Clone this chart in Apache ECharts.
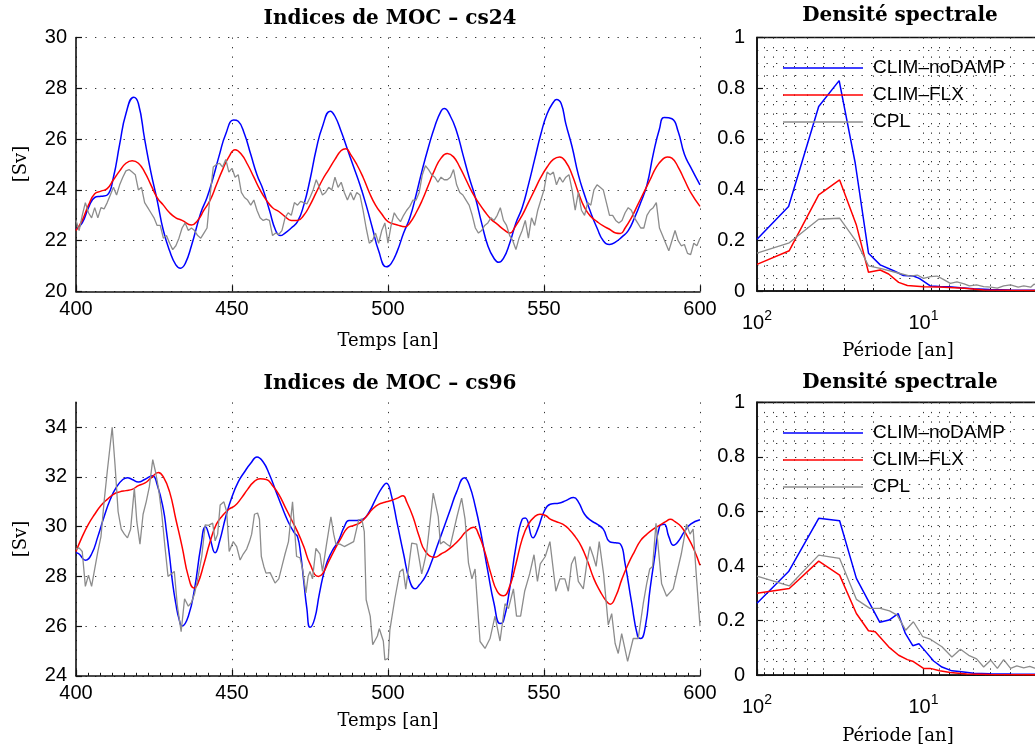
<!DOCTYPE html>
<html><head><meta charset="utf-8">
<script src="https://cdn.jsdelivr.net/npm/echarts@6/dist/echarts.min.js"></script>
<style>html,body{margin:0;padding:0;background:#fff;overflow:hidden}#c{width:1035px;height:749px}</style>
</head><body><div id="c"></div>
<script>
// ---------- names / colours ----------
const seriesNames = ['CLIM–noDAMP', 'CLIM–FLX', 'CPL'];
const seriesColors = ['#0000ff', '#ff0000', '#8c8c8c'];
const panelTitles = ['Indices de MOC – cs24', 'Densité spectrale', 'Indices de MOC – cs96', 'Densité spectrale'];
const timeAxisName = 'Temps [an]';
const periodAxisName = 'Période [an]';
const unitName = '[Sv]';

// ---------- axis ticks ----------
const timeRange = [400, 600];
const timeTickStep = 50;
const cs24Range = [20, 30];
const cs96Range = [24, 35];
const sverdrupTickStep = 2;
const densityRange = [0, 1];
const densityTickStep = 0.2;
const periodRange = [1, 100];
const periodLabels = {100: '2', 10: '1'};   // 10^exponent labels

// ---------- cs24 time series [year, Sv] ----------
const cs24_noDAMP = [[400,22.45],[402,22.7],[404,23.3],[406,23.7],[408,23.75],[410,23.8],[412,24.5],[414,25.8],[416,27.0],[418.5,27.65],[420,27.4],[422,26.0],[424,24.7],[426,23.6],[428,22.4],[430,21.6],[432,21.05],[433.5,20.92],[435,21.1],[437,21.8],[440,23.1],[442,23.7],[444,24.5],[446,25.4],[448,26.2],[450.5,26.75],[452,26.7],[454,26.2],[456,25.4],[458,24.6],[460,24.0],[462,23.2],[464,22.4],[465.5,22.2],[467,22.3],[469,22.5],[471,22.75],[473,23.4],[475,24.4],[477,25.6],[479,26.5],[481.5,27.1],[483,26.9],[485,26.3],[487,25.6],[489,24.9],[491,24.2],[493,23.4],[495,22.5],[497,21.6],[499.5,20.97],[501,21.1],[503,21.6],[505,22.3],[507,22.9],[509,23.8],[511,24.8],[513,25.7],[515,26.5],[517,27.1],[518,27.2],[520,26.9],[522,26.3],[524,25.4],[526,24.5],[528,23.7],[530,22.7],[532,21.8],[534,21.3],[535.5,21.15],[537,21.3],[539,21.9],[541,22.7],[543,23.3],[545,24.2],[547,25.2],[549,26.2],[551,27.0],[553,27.45],[554,27.56],[555.5,27.4],[557,26.6],[559,25.7],[561,24.6],[563,23.8],[565,23.1],[567,22.5],[569,22.0],[571,21.85],[573,21.95],[575,22.15],[577,22.4],[579,22.9],[581,23.5],[583,24.2],[585,25.4],[587,26.4],[588.5,26.85],[591,26.8],[593,26.3],[595,25.4],[597,24.9],[600,24.2]];
const cs24_FLX = [[400,22.4],[402,22.8],[404,23.4],[406,23.85],[408,23.95],[410,24.05],[412,24.4],[414,24.75],[416,25.05],[418,25.15],[420,25.05],[422,24.7],[424,24.2],[426,23.7],[428,23.4],[430,23.1],[432,22.9],[434,22.8],[437,22.62],[439,22.8],[441,23.2],[443,23.6],[445,24.2],[447,24.8],[449,25.3],[451,25.58],[453,25.4],[455,25.0],[457,24.5],[459,24.0],[461,23.6],[463,23.3],[465,23.15],[467,22.95],[469,22.8],[471,22.8],[473,23.0],[475,23.4],[477,23.9],[479,24.4],[481,24.8],[483,25.2],[485,25.55],[486.5,25.62],[488,25.4],[490,25.0],[492,24.5],[494,23.9],[496,23.4],[498,23.05],[500,22.75],[503,22.62],[505.5,22.55],[507,22.7],[509,23.1],[511,23.6],[513,24.2],[515,24.8],[517,25.25],[519,25.43],[521,25.3],[523,24.9],[525,24.4],[527,23.9],[529,23.5],[531,23.15],[533,22.85],[535,22.65],[537,22.45],[539,22.3],[541,22.6],[543,23.0],[545,23.5],[547,24.0],[549,24.5],[551,24.9],[553,25.2],[555,25.3],[557,25.1],[559,24.6],[561,23.9],[563,23.3],[565,22.95],[567,22.75],[569,22.58],[571,22.45],[573,22.3],[574.5,22.28],[576,22.5],[578,22.9],[580,23.4],[582,23.9],[584,24.4],[586,24.9],[588,25.2],[589.5,25.3],[591,25.25],[593,24.9],[595,24.4],[597,23.9],[600,23.35]];
const cs24_CPL = [[400,22.8],[401,22.4],[402,23.0],[403,23.5],[404,23.1],[405,22.9],[406,23.3],[407,22.9],[408,23.3],[409,23.25],[410,23.5],[411,23.8],[412,24.1],[413,23.8],[414,24.2],[415,24.5],[416,24.75],[417,24.8],[418,24.7],[419,24.6],[420,24.0],[421,24.1],[422,23.5],[423,23.3],[424,23.1],[425,22.9],[426,22.6],[427,22.6],[428,22.1],[429,22.2],[430,21.9],[431,21.65],[432,21.8],[433,22.1],[434,22.5],[435,22.7],[436,22.4],[437,22.5],[438,22.4],[439,22.2],[440,22.1],[441,22.3],[442,22.5],[443,23.8],[444,24.9],[445,25.0],[446,25.05],[447,24.9],[448,25.2],[449,24.7],[450,24.85],[451,24.5],[452,24.6],[453,23.9],[454,23.7],[455,23.6],[456,23.4],[457,23.6],[458,23.2],[459,22.9],[460,22.8],[461,22.85],[462,22.8],[463,22.2],[464,22.3],[465,22.25],[466,22.4],[467,22.9],[468,23.1],[469,23.0],[470,23.5],[471,23.4],[472,23.55],[473,23.5],[474,23.45],[475,23.7],[476,24.0],[477,24.4],[478,24.1],[479,23.8],[480,23.9],[481,24.1],[482,24.0],[483,24.5],[484,24.1],[485,24.3],[486,23.9],[487,23.6],[488,23.9],[489,23.6],[490,23.9],[491,23.8],[492,23.2],[493,22.5],[494,21.9],[495,22.0],[496,22.3],[497,21.9],[498,22.4],[499,22.7],[500,21.9],[501,22.6],[502,23.1],[503,22.9],[504,22.75],[505,23.0],[506,23.2],[507,23.35],[508,23.6],[509,23.6],[510,23.9],[511,24.6],[512,24.95],[513,24.8],[514,24.6],[515,24.5],[516,24.3],[517,24.5],[518,24.4],[519,24.4],[520,24.5],[521,24.8],[522,24.2],[523,23.9],[524,23.8],[525,23.6],[526,23.4],[527,23.0],[528,22.5],[529,22.3],[530,22.4],[531,22.6],[532,22.7],[533,22.9],[534,22.8],[535,23.0],[536,23.3],[537,22.8],[538,22.6],[539,22.2],[540,22.0],[541,21.65],[542,22.1],[543,22.4],[544,22.8],[545,22.1],[546,22.9],[547,22.6],[548,23.2],[549,23.6],[550,24.0],[551,24.7],[552,24.6],[553,24.7],[554,24.2],[555,24.5],[556,24.3],[557,24.5],[558,24.6],[559,24.0],[560,23.2],[561,23.9],[562,23.2],[563,23.0],[564,23.5],[565,23.4],[566,24.0],[567,24.2],[568,24.1],[569,24.0],[570,23.5],[571,23.0],[572,23.0],[573,22.8],[574,22.7],[575,22.8],[576,23.1],[577,23.3],[578,23.2],[579,22.9],[580,22.7],[581,22.5],[582,22.5],[583,23.0],[584,23.2],[585,23.3],[586,23.5],[587,22.5],[588,22.2],[589,21.9],[590,21.6],[591,22.0],[592,22.4],[593,22.0],[594,21.8],[595,21.85],[596,21.5],[597,21.45],[598,21.9],[599,21.8],[600,22.1]];

// ---------- cs96 time series [year, Sv] ----------
const cs96_noDAMP = [[400,28.95],[401,28.9],[403,28.65],[405,28.9],[407,29.6],[409,30.4],[411,31.1],[413,31.6],[415,31.9],[416.5,31.97],[418,31.9],[420,31.8],[422,31.9],[424.5,32.05],[426,31.7],[428,30.7],[429,29.8],[430,28.8],[431,27.7],[432,26.9],[433,26.3],[434,26.0],[436,26.4],[438,27.5],[440,29.2],[441.5,30.0],[443,29.5],[444.6,28.95],[446,29.4],[448,30.4],[450,31.2],[452,31.8],[454,32.2],[456,32.55],[458,32.8],[460,32.6],[462,32.1],[464,31.45],[466,30.8],[468,30.2],[470,29.75],[471,29.6],[472,28.9],[473,27.8],[474,26.7],[475,25.95],[476.5,26.3],[478,27.3],[480,28.4],[482,29.0],[484,29.4],[486,30.0],[487.5,30.25],[490,30.25],[492,30.3],[494,30.6],[496,31.1],[498,31.55],[499.5,31.75],[501,31.3],[503,30.1],[505,28.9],[507,27.8],[508.7,27.5],[510,27.65],[512,28.0],[514,28.6],[516,29.3],[518,30.0],[520,30.7],[522,31.4],[524.5,31.97],[526,31.7],[528,30.8],[530,29.6],[532,28.2],[534,26.9],[535.9,26.1],[537,26.2],[539,27.5],[541,29.2],[543,30.3],[544,30.35],[546.5,29.55],[548,29.9],[550,30.6],[552,30.9],[555,30.95],[557,31.05],[559.5,31.17],[561,31.0],[563,30.5],[565,30.25],[567,30.1],[569,29.9],[571,29.4],[573,29.35],[574.5,29.3],[576,28.5],[578,27.0],[580,25.6],[581,25.5],[582.5,26.0],[584,27.5],[585.5,28.8],[587,30.0],[588.5,30.1],[590,29.6],[591.5,29.25],[593,29.4],[595,29.8],[597,30.1],[600,30.28]];
const cs96_FLX = [[400,29.0],[402,29.6],[404,30.1],[406,30.5],[408,30.85],[410,31.1],[412,31.3],[414,31.4],[416,31.45],[418,31.5],[420,31.65],[422,31.75],[424,31.95],[426.4,32.18],[428,32.0],[430,31.4],[432,30.3],[434,29.2],[436,28.0],[437.8,27.53],[439,27.7],[441,28.5],[443,29.4],[445,30.1],[447,30.45],[449,30.7],[451,30.85],[453,31.15],[455,31.5],[457,31.8],[459,31.93],[461,31.9],[463,31.65],[465,31.3],[467,30.8],[469,30.3],[471,29.8],[473,29.2],[475,28.5],[477.7,28.0],[479,28.1],[481,28.6],[483,29.1],[485,29.55],[487,29.95],[489,30.05],[491,30.15],[493,30.4],[495,30.7],[497,30.9],[499,30.98],[501,31.05],[503,31.15],[504.8,31.24],[506,31.0],[508,30.4],[510,29.6],[512,29.0],[515,28.77],[517,28.9],[519,29.05],[521,29.25],[523,29.5],[525,29.8],[527.5,29.98],[529,29.7],[531,29.0],[533,28.1],[535,27.4],[537,27.22],[539,27.6],[541,28.5],[543,29.5],[545,30.1],[547,30.4],[548.7,30.5],[550.5,30.45],[552,30.3],[554,30.2],[556,30.1],[558,29.9],[560,29.6],[562,29.2],[564,28.6],[566,27.9],[568,27.4],[570,27.0],[571.2,26.88],[573,27.2],[575,27.9],[577,28.5],[579,29.0],[581,29.45],[583,29.7],[585,29.9],[587,30.05],[589,30.2],[590.5,30.3],[592,30.2],[594,30.0],[596,29.6],[598,29.1],[600,28.45]];
const cs96_CPL = [[400,29.1],[401,29.15],[402,29.0],[403,27.6],[404,28.05],[405,27.6],[406,28.3],[407,29.0],[408,29.6],[409,31.0],[410,32.2],[411.6,34.0],[412.5,32.5],[413.5,30.6],[414.5,29.9],[415.5,29.7],[416.5,29.55],[417.5,29.9],[418.7,31.55],[419.5,30.2],[420.5,29.3],[421.5,30.5],[422.5,31.0],[423.5,31.6],[424.6,32.7],[425.5,32.2],[426.5,31.5],[427.5,30.5],[428.5,29.2],[429.5,28.0],[430.5,28.1],[431.5,28.2],[432.5,26.8],[433.7,25.78],[434.8,27.1],[436,26.8],[437,26.95],[438,27.3],[439,27.9],[440.3,28.8],[441.4,30.07],[442.5,30.05],[443.8,30.14],[444.6,29.43],[445.4,29.7],[446.2,30.87],[447.4,31.0],[448.3,30.6],[449.1,29.0],[450.4,29.4],[451.5,29.2],[452.6,28.66],[453.6,28.9],[454.7,29.1],[455.6,29.4],[456.3,29.7],[457.2,30.5],[458.2,30.55],[458.8,30.3],[459.4,28.8],[460.2,28.4],[460.9,28.13],[462.2,28.15],[463.8,27.73],[465,27.9],[466,28.4],[467,28.9],[468.1,29.4],[469.4,31.0],[470.7,28.8],[471.8,28.75],[472.6,28.3],[473.7,27.33],[474.4,28.0],[475,28.2],[475.8,27.9],[476.9,29.13],[478.2,28.9],[479,28.2],[480.3,29.3],[481.7,30.4],[482.6,29.7],[483.3,29.3],[484.6,29.3],[486,29.2],[487.5,29.3],[489,29.4],[490.6,30.27],[491.6,30.3],[492.4,29.8],[493,27.06],[493.7,26.7],[494.3,26.4],[495.1,25.25],[496.6,25.6],[497.2,25.9],[498.5,25.4],[499,24.64],[500.1,24.7],[500.6,25.85],[502.2,27.1],[503.8,28.19],[504.8,28.3],[505.7,27.49],[507.6,29.34],[509.2,29.3],[510.8,28.1],[512.4,29.0],[514.5,31.35],[516.1,30.4],[516.8,29.3],[517.8,29.4],[518.8,29.3],[519.9,29.2],[522.1,30.4],[523.6,31.15],[524.7,30.3],[525.8,28.53],[526.9,27.9],[527.9,28.3],[529.5,25.38],[531.1,25.1],[532.7,25.5],[534.3,26.4],[535.9,25.4],[537.5,26.9],[538.6,26.7],[540.2,27.5],[541.2,26.4],[542.5,26.4],[543.8,27.4],[545.4,28.1],[546.8,28.87],[547.9,27.8],[548.8,28.5],[550.4,28.8],[551.9,29.4],[553.8,27.4],[555.1,27.9],[556.7,27.9],[557.8,27.4],[558.8,28.5],[559.9,28.8],[561,27.8],[562.6,27.5],[563.7,28.5],[564.7,29.2],[565.8,28.8],[566.7,28.4],[567.7,29.4],[569.1,28.1],[570.6,26.05],[571.7,26.5],[572.8,25.3],[573.8,24.9],[574.9,25.7],[576.8,24.58],[578.6,25.5],[580.2,25.5],[581.8,26.9],[582.9,27.7],[583.9,28.3],[584.8,28.4],[585.9,30.14],[586.6,29.2],[587.7,27.7],[589.3,27.2],[591.4,27.5],[594,28.9],[595.7,30.1],[596.8,29.7],[597.8,29.9],[598.9,27.9],[600,26.0]];

// ---------- spectral densities [period (years), density] ----------
const spec24_noDAMP = [[100,0.204],[64.6,0.333],[42.6,0.728],[32.1,0.83],[25.7,0.504],[21.4,0.149],[18.2,0.103],[15.1,0.080],[13.2,0.061],[11.5,0.059],[10.6,0.05],[9.1,0.02],[8,0.018],[7,0.017],[6,0.013],[5,0.009],[4,0.006],[3,0.004],[2,0.003]];
const spec24_FLX = [[100,0.105],[64,0.159],[42.6,0.379],[31.9,0.438],[25.3,0.26],[21.4,0.074],[18.2,0.083],[16.2,0.067],[14.1,0.034],[12.5,0.022],[10,0.017],[8.1,0.016],[5.7,0.011],[4.35,0.004],[3,0.003],[2,0.002]];
const spec24_CPL = [[100,0.149],[64,0.19],[42.6,0.283],[31.9,0.287],[25.3,0.195],[21.4,0.099],[18.2,0.089],[14.4,0.072],[12,0.059],[10.9,0.063],[10,0.05],[9.1,0.057],[8.3,0.059],[7.6,0.046],[6.9,0.030],[6.3,0.036],[5.7,0.028],[5.3,0.020],[4.8,0.024],[4.35,0.017],[3.95,0.015],[3.6,0.011],[3.3,0.020],[3.0,0.024],[2.7,0.015],[2.5,0.02],[2.27,0.015],[2.17,0.027],[2,0.02]];
const spec96_noDAMP = [[100,0.264],[64.6,0.38],[42.6,0.575],[31.9,0.566],[25.3,0.355],[18.3,0.194],[16.1,0.202],[14.2,0.226],[12.85,0.153],[11.6,0.108],[10.65,0.115],[9.5,0.08],[8.7,0.052],[7.75,0.030],[6.75,0.016],[5.9,0.013],[5,0.007],[4,0.005],[3,0.004],[2,0.003]];
const spec96_FLX = [[100,0.30],[64,0.318],[42.6,0.418],[31.9,0.367],[25.3,0.226],[21.4,0.163],[19.5,0.159],[16.2,0.104],[14.1,0.073],[12.5,0.057],[11.5,0.05],[10,0.025],[9.1,0.025],[8,0.016],[6.9,0.010],[5.5,0.004],[4,0.003],[2,0.002]];
const spec96_CPL = [[100,0.363],[64,0.327],[42.6,0.44],[31.9,0.428],[25.3,0.278],[21,0.245],[18.2,0.245],[16,0.236],[14.4,0.22],[12.8,0.165],[11.5,0.196],[10.1,0.141],[9.1,0.132],[7.75,0.104],[6.75,0.067],[6.0,0.095],[5.35,0.073],[4.8,0.06],[4.35,0.030],[3.95,0.055],[3.6,0.025],[3.3,0.057],[3.0,0.025],[2.75,0.034],[2.5,0.027],[2.3,0.032],[2.15,0.026],[2,0.028]];

// ---------- build ----------
const SANS = '"Liberation Sans", Arial, Helvetica, sans-serif';
const SERIF = '"DejaVu Serif", serif';
const dotted = {color: '#333', width: 1, type: [1.3, 8.2]};
const axisLineStyle = {show: true, onZero: false, lineStyle: {color: '#111', width: 1.6}};
const tickStyle = {show: true, inside: true, length: 6, lineStyle: {color: '#111', width: 1.2}};
const labelStyle = {color: '#000', fontSize: 20, fontFamily: SANS};

function timeX(grid, minor) {
  return {type: 'value', gridIndex: grid, min: timeRange[0], max: timeRange[1], interval: timeTickStep,
    axisLine: axisLineStyle, axisTick: tickStyle,
    minorTick: {show: !!minor, splitNumber: 13, length: 3, lineStyle: {color: '#111'}},
    axisLabel: Object.assign({margin: 8}, labelStyle),
    splitLine: {show: true, lineStyle: dotted}};
}
function svY(grid, range) {
  const even = (range[1] - range[0]) % sverdrupTickStep === 0;
  return {type: 'value', gridIndex: grid, min: range[0], max: range[1], interval: sverdrupTickStep,
    axisLine: axisLineStyle, axisTick: tickStyle,
    axisLabel: Object.assign({margin: 9, showMaxLabel: even}, labelStyle),
    splitLine: {show: true, showMaxLine: even, lineStyle: dotted}};
}
function periodX(grid) {
  return {type: 'log', logBase: 10, gridIndex: grid, min: periodRange[0], max: periodRange[1], inverse: true,
    axisLine: axisLineStyle, axisTick: tickStyle,
    minorTick: {show: true, splitNumber: 9, length: 3, lineStyle: {color: '#111'}},
    axisLabel: {margin: 14, formatter: v => periodLabels[Math.round(v)] ? '{b|10}{e|' + periodLabels[Math.round(v)] + '}' : '',
      rich: {b: {fontSize: 20, fontFamily: SANS, color: '#000', padding: [8, 0, 0, 0]}, e: {fontSize: 14, fontFamily: SANS, color: '#000', padding: [0, 0, 6, 0]}}},
    splitLine: {show: true, lineStyle: dotted},
    minorSplitLine: {show: true, lineStyle: dotted}};
}
function densityY(grid) {
  return {type: 'value', gridIndex: grid, min: densityRange[0], max: densityRange[1], interval: densityTickStep,
    axisLine: axisLineStyle, axisTick: tickStyle,
    minorTick: {show: false, splitNumber: 4},
    axisLabel: Object.assign({margin: 12}, labelStyle),
    splitLine: {show: true, lineStyle: dotted},
    minorSplitLine: {show: true, lineStyle: dotted}};
}
function line(idx, data, ax, smooth) {
  return {type: 'line', name: seriesNames[idx], data: data, xAxisIndex: ax, yAxisIndex: ax,
    symbol: 'none', showSymbol: false, smooth: smooth ? 0.5 : false,
    lineStyle: {color: seriesColors[idx], width: idx === 2 ? 1.3 : 1.5}, itemStyle: {color: seriesColors[idx]},
    emphasis: {disabled: true}, z: 3 + idx};
}
function txt(x, y, text, font, rot) {
  return {type: 'text', x: x, y: y, rotation: rot || 0, z: 100,
    style: {text: text, font: font, fill: '#000', align: 'center', verticalAlign: 'middle'}};
}
function legend(top) {
  return {orient: 'vertical', left: 783, top: top, padding: 0, icon: 'rect', itemWidth: 80, itemHeight: 1.5, itemGap: 7,
    data: seriesNames, selectedMode: false,
    textStyle: {fontSize: 19, fontFamily: SANS, color: '#000', lineHeight: 20, padding: [0, 0, 0, 5]}};
}

const gridBase = {outerBoundsMode: 'none', containLabel: false};
const option = {
  animation: false,
  backgroundColor: '#fff',
  grid: [
    Object.assign({left: 76, top: 37.5, width: 624, height: 254}, gridBase),
    Object.assign({left: 757, top: 37.5, width: 333, height: 253.5, show: true, borderColor: '#111', borderWidth: 1.6}, gridBase),
    Object.assign({left: 76, top: 402.4, width: 624, height: 273.4}, gridBase),
    Object.assign({left: 757, top: 402.4, width: 333, height: 272.8, show: true, borderColor: '#111', borderWidth: 1.6}, gridBase)
  ],
  xAxis: [timeX(0, false), periodX(1), timeX(2, true), periodX(3)],
  yAxis: [svY(0, cs24Range), densityY(1), svY(2, cs96Range), densityY(3)],
  legend: [legend(58), legend(423)],
  series: [
    line(0, cs24_noDAMP, 0, true), line(1, cs24_FLX, 0, true), line(2, cs24_CPL, 0, false),
    line(0, spec24_noDAMP, 1, false), line(1, spec24_FLX, 1, false), line(2, spec24_CPL, 1, false),
    line(0, cs96_noDAMP, 2, true), line(1, cs96_FLX, 2, true), line(2, cs96_CPL, 2, false),
    line(0, spec96_noDAMP, 3, false), line(1, spec96_FLX, 3, false), line(2, spec96_CPL, 3, false)
  ],
  graphic: [
    txt(390, 19, panelTitles[0], 'bold 20px ' + SERIF),
    txt(900, 16, panelTitles[1], 'bold 20px ' + SERIF),
    txt(390, 384, panelTitles[2], 'bold 20px ' + SERIF),
    txt(900, 383, panelTitles[3], 'bold 20px ' + SERIF),
    txt(388, 341, timeAxisName, '18px ' + SERIF),
    txt(388, 721, timeAxisName, '18px ' + SERIF),
    txt(898, 351, periodAxisName, '18px ' + SERIF),
    txt(898, 736, periodAxisName, '18px ' + SERIF),
    txt(21, 164, unitName, '18px ' + SERIF, Math.PI / 2),
    txt(21, 539, unitName, '18px ' + SERIF, Math.PI / 2)
  ]
};
const chart = echarts.init(document.getElementById('c'), null, {renderer: 'canvas'});
chart.setOption(option);
</script></body></html>
